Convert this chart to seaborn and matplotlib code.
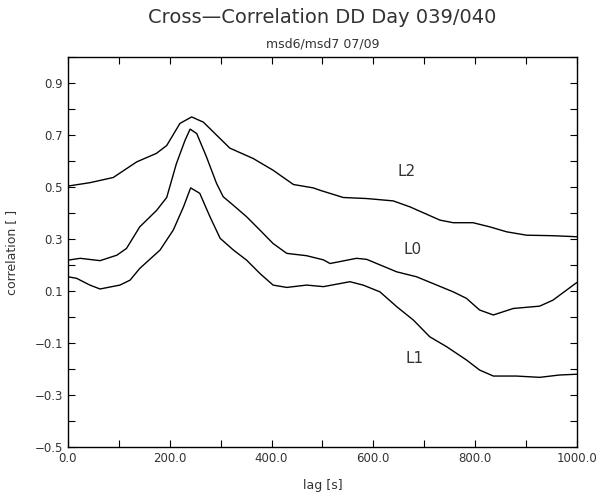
import numpy as np
import pandas as pd
import seaborn as sns
import matplotlib
matplotlib.use('Agg')
import matplotlib.pyplot as plt
from matplotlib.ticker import MultipleLocator, FuncFormatter

# values
lag_l2 = [0, 43, 89, 135, 174, 194, 220, 243, 266, 292, 318, 364, 403, 443, 482,
          495, 541, 587, 639, 672, 731, 757, 796, 829, 862, 901, 953, 1000]
corr_l2 = [0.504, 0.517, 0.537, 0.597, 0.63, 0.66, 0.745, 0.77, 0.75, 0.70, 0.65, 0.61,
           0.565, 0.51, 0.497, 0.488, 0.46, 0.456, 0.447, 0.424, 0.373, 0.363, 0.363,
           0.347, 0.328, 0.315, 0.313, 0.309]

lag_l0 = [0, 24, 63, 96, 115, 141, 174, 194, 213, 230, 240, 253, 272, 292, 305, 325,
          351, 377, 403, 430, 469, 502, 515, 567, 587, 646, 685, 757, 783, 809, 836,
          875, 927, 953, 980, 1000]
corr_l0 = [0.219, 0.226, 0.217, 0.238, 0.264, 0.347, 0.41, 0.46, 0.59, 0.68, 0.723,
           0.706, 0.617, 0.514, 0.463, 0.43, 0.386, 0.335, 0.283, 0.245, 0.236, 0.22,
           0.206, 0.226, 0.222, 0.174, 0.155, 0.097, 0.072, 0.027, 0.008, 0.033, 0.042,
           0.065, 0.104, 0.133]

lag_l1 = [0, 17, 43, 63, 102, 122, 141, 181, 207, 227, 241, 259, 279, 299, 325, 351,
          377, 403, 430, 469, 502, 554, 580, 613, 646, 679, 711, 744, 783, 809, 836,
          881, 927, 966, 1000]
corr_l1 = [0.155, 0.149, 0.123, 0.108, 0.123, 0.142, 0.187, 0.258, 0.335, 0.424, 0.497,
           0.476, 0.386, 0.303, 0.258, 0.219, 0.168, 0.123, 0.114, 0.123, 0.117, 0.136,
           0.123, 0.097, 0.04, -0.012, -0.076, -0.114, -0.165, -0.204, -0.227, -0.227,
           -0.232, -0.223, -0.22]

labels = ['L2', 'L0', 'L1']
label_pos = [(665, 0.559), (678, 0.258), (681, -0.159)]

frames = []
for name, x, y in zip(labels, [lag_l2, lag_l0, lag_l1], [corr_l2, corr_l0, corr_l1]):
    frames.append(pd.DataFrame({'lag': x, 'corr': y, 'series': name}))
df = pd.concat(frames, ignore_index=True)

sns.set_style('ticks')
plt.rcParams['font.family'] = ['DejaVu Sans']

fig = plt.figure(figsize=(5.99, 4.97), dpi=100)
ax = fig.add_axes([0.1135, 0.1006, 0.8495, 0.7844])

sns.lineplot(data=df, x='lag', y='corr', units='series', estimator=None,
             color='black', linewidth=1.0, ax=ax, sort=False)

for name, (x, y) in zip(labels, label_pos):
    ax.text(x, y, name, fontsize=11, color='#333333', ha='center', va='center')

fmt = FuncFormatter(lambda v, p: ('%.1f' % v).replace('-', '\u2212'))
ax.set_xlim(0, 1000)
ax.set_ylim(-0.5, 1.0)
ax.xaxis.set_major_locator(MultipleLocator(200))
ax.xaxis.set_minor_locator(MultipleLocator(100))
ax.xaxis.set_major_formatter(fmt)
ax.set_yticks(np.arange(-0.5, 0.95, 0.2))
ax.yaxis.set_minor_locator(MultipleLocator(0.1))
ax.yaxis.set_major_formatter(fmt)
ax.tick_params(which='both', direction='in', top=True, right=True, length=5,
               width=0.8, labelsize=8.5, colors='black', labelcolor='#333333')
for s in ax.spines.values():
    s.set_linewidth(1.0)
    s.set_color('black')

ax.set_xlabel('lag [s]', fontsize=9, color='#333333', labelpad=10)
ax.set_ylabel('correlation [ ]', fontsize=9, color='#333333', labelpad=12)
fig.text(0.538, 0.965, 'Cross\u2014Correlation DD Day 039/040', ha='center', va='center',
         fontsize=14, color='#333333')
fig.text(0.538, 0.911, 'msd6/msd7 07/09', ha='center', va='center',
         fontsize=9, color='#333333')

fig.savefig('out.png', dpi=100)
